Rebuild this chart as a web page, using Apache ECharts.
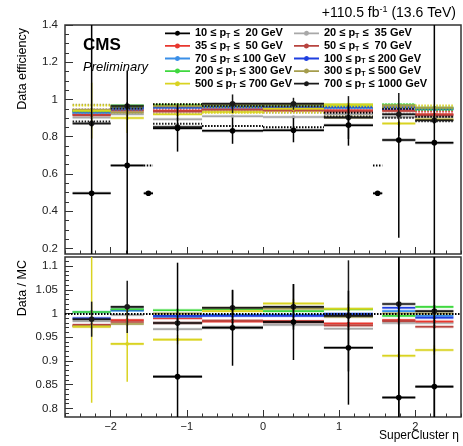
<!DOCTYPE html>
<html>
<head>
<meta charset="utf-8">
<script src="https://cdn.jsdelivr.net/npm/echarts@6/dist/echarts.min.js"></script>
<style>
  html, body { margin: 0; padding: 0; background: #fff; }
  #chart { width: 463px; height: 446px; }
</style>
</head>
<body>
<div id="chart"></div>
<script>
// SuperCluster eta binning (barrel, gap, endcap)
const etaEdges = [-2.5, -2.0, -1.566, -1.4442, -0.8, 0.0, 0.8, 1.4442, 1.566, 2.0, 2.5];

// Legend labels of the pT bins
const ptLabels = [
  '10 ≤ pT ≤  20 GeV', '20 ≤ pT ≤  35 GeV', '35 ≤ pT ≤  50 GeV', '50 ≤ pT ≤  70 GeV',
  '70 ≤ pT ≤ 100 GeV', '100 ≤ pT ≤ 200 GeV', '200 ≤ pT ≤ 300 GeV', '300 ≤ pT ≤ 500 GeV',
  '500 ≤ pT ≤ 700 GeV', '700 ≤ pT ≤ 1000 GeV'
];

// Data efficiency per eta bin (null = bin not measured)
const effPt10to20    = [0.496, 0.646, 0.496, 0.845, 0.832, 0.835, 0.862, 0.496, 0.782, 0.768];
const effPt20to35    = [0.903, 0.920, null,  0.894, 0.910, 0.906, 0.920, null,  0.906, 0.906];
const effPt35to50    = [0.920, 0.947, null,  0.940, 0.947, 0.945, 0.942, null,  0.942, 0.920];
const effPt50to70    = [0.915, 0.940, null,  0.935, 0.945, 0.940, 0.935, null,  0.938, 0.915];
const effPt70to100   = [0.930, 0.952, null,  0.956, 0.958, 0.955, 0.955, null,  0.955, 0.950];
const effPt100to200  = [0.935, 0.955, null,  0.958, 0.960, 0.960, 0.960, null,  0.960, 0.947];
const effPt200to300  = [0.940, 0.968, null,  0.970, 0.970, 0.970, 0.972, null,  0.970, 0.956];
const effPt300to500  = [0.945, 0.930, null,  0.965, 0.973, 0.973, 0.903, null,  0.968, 0.955];
const effPt500to700  = [0.940, 0.900, null,  0.920, 0.933, 0.950, 0.973, null,  0.871, 0.893];
const effPt700to1000 = [0.871, 0.965, null,  0.852, 0.977, 0.977, 0.903, null,  0.920, 0.888];

// Uncertainties on the data efficiency: value or [down, up]
const effErrPt10to20    = [[1.0, 1.0], [0.5, 0.51], 0.01, 0.125, 0.07, 0.065, 0.11, 0.01, [0.525, 0.1], [0.9, 0.9]];
const effErrPt500to700  = [0.15, 0.08, null, 0.01, 0.01, 0.01, 0.01, null, 0.02, 0.02];
const effErrPt700to1000 = [0.02, 0.02, null, 0.02, 0.05, 0.032, 0.115, null, 0.115, 0.02];

// Data / MC scale factors per eta bin
const sfPt10to20    = [null,  null,  0.768, 0.867, 0.970, 0.982, 0.928, 0.768, 0.823, 0.846];
const sfPt20to35    = [0.984, 0.997, null,  0.967, 0.972, 0.976, 0.968, null,  0.980, 0.980];
const sfPt35to50    = [0.974, 0.986, null,  0.990, 0.983, 0.984, 0.979, null,  0.986, 0.983];
const sfPt50to70    = [0.976, 0.982, null,  0.980, 0.985, 0.982, 0.975, null,  0.984, 0.972];
const sfPt70to100   = [1.003, 1.006, null,  0.993, 0.997, 0.997, 0.999, null,  1.005, 0.995];
const sfPt100to200  = [0.990, 1.008, null,  0.995, 0.995, 0.995, 0.999, null,  1.012, 0.991];
const sfPt200to300  = [1.003, 1.009, null,  1.007, 1.009, 1.005, 1.009, null,  0.995, 1.014];
const sfPt300to500  = [0.973, 0.978, null,  1.000, 1.012, 1.010, 0.993, null,  1.000, 1.000];
const sfPt500to700  = [0.972, 0.936, null,  0.945, 1.005, 1.021, 1.010, null,  0.911, 0.923];
const sfPt700to1000 = [0.988, 1.014, null,  0.980, 1.012, 1.014, 0.995, null,  1.020, 1.005];

// Uncertainties on the scale factors
const sfErrPt10to20    = [null, null, null, 0.24, 0.08, 0.08, 0.12, null, 0.35, 0.35];
const sfErrPt500to700  = [0.16, 0.08, null, 0.01, 0.01, 0.01, 0.01, null, 0.01, 0.01];
const sfErrPt700to1000 = [0.037, 0.055, null, 0.01, 0.037, 0.048, 0.117, null, 0.3, 0.3];

// Axis tick labels
const etaTicks = [-2, -1, 0, 1, 2];
const effTicks = [0.2, 0.4, 0.6, 0.8, 1.0, 1.2, 1.4];
const sfTicks  = [0.8, 0.85, 0.9, 0.95, 1.0, 1.05, 1.1];
const sfReference = 1.0;

const FONT = '"Liberation Sans", Arial, Helvetica, sans-serif';
const AXIS_COLOR = '#333';

// one entry per pT bin, drawn in this order (black ones last, on top)
const bins = [
  { label: ptLabels[1], eff: effPt20to35,   sf: sfPt20to35,   color: '#a8a8a8' },
  { label: ptLabels[2], eff: effPt35to50,   sf: sfPt35to50,   color: '#e8372f' },
  { label: ptLabels[3], eff: effPt50to70,   sf: sfPt50to70,   color: '#b8443f' },
  { label: ptLabels[4], eff: effPt70to100,  sf: sfPt70to100,  color: '#3a8fe8' },
  { label: ptLabels[5], eff: effPt100to200, sf: sfPt100to200, color: '#1f3fe0' },
  { label: ptLabels[6], eff: effPt200to300, sf: sfPt200to300, color: '#3fd83f' },
  { label: ptLabels[7], eff: effPt300to500, sf: sfPt300to500, color: '#a59d4c' },
  { label: ptLabels[8], eff: effPt500to700, sf: sfPt500to700, color: '#d9d321', effErr: effErrPt500to700, sfErr: sfErrPt500to700 },
  { label: ptLabels[9], eff: effPt700to1000, sf: sfPt700to1000, color: '#1a1a1a', effErr: effErrPt700to1000, sfErr: sfErrPt700to1000, big: true },
  { label: ptLabels[0], eff: effPt10to20,   sf: sfPt10to20,   color: '#000000', effErr: effErrPt10to20, sfErr: sfErrPt10to20, big: true }
];

function steps(from, to, step) {
  const out = [];
  const n = Math.round((to - from) / step);
  for (let k = 0; k <= n; k++) out.push(+(from + k * step).toFixed(4));
  return out;
}

// items: [centre, value, low edge, high edge, err down, err up, reference line]
function buildItems(vals, errs, refs) {
  const out = [];
  vals.forEach((v, j) => {
    if (v == null) return;
    const lo = etaEdges[j], hi = etaEdges[j + 1];
    let dn = -1, up = -1;
    const e = errs ? errs[j] : null;
    if (e != null) {
      if (Array.isArray(e)) { dn = e[0]; up = e[1]; } else { dn = e; up = e; }
    }
    const r = refs && refs[j] != null ? refs[j] : -1;
    out.push([(lo + hi) / 2, v, lo, hi, dn, up, r]);
  });
  return out;
}

function makeRender(color, opt) {
  return function (params, api) {
    const c = api.value(0), v = api.value(1), lo = api.value(2), hi = api.value(3);
    const dn = api.value(4), up = api.value(5), ref = api.value(6);
    const pL = api.coord([lo, v]), pR = api.coord([hi, v]), pC = api.coord([c, v]);
    const bh = api.size([0, opt.band])[1];
    const kids = [];
    kids.push({ type: 'rect', shape: { x: pL[0], y: pL[1] - bh, width: pR[0] - pL[0], height: 2 * bh },
                style: { fill: color, opacity: opt.bandOpacity } });
    if (ref > 0) {
      const m = api.coord([lo, ref]);
      kids.push({ type: 'line', shape: { x1: pL[0], y1: m[1], x2: pR[0], y2: m[1] },
                  style: { stroke: color, lineWidth: 2, lineDash: [1.5, 1.5] } });
    }
    kids.push({ type: 'line', shape: { x1: pL[0], y1: pL[1], x2: pR[0], y2: pR[1] },
                style: { stroke: color, lineWidth: opt.lineWidth } });
    if (dn >= 0) {
      const a = api.coord([c, v - dn]), b = api.coord([c, v + up]);
      kids.push({ type: 'line', shape: { x1: a[0], y1: a[1], x2: b[0], y2: b[1] },
                  style: { stroke: color, lineWidth: 1.5 } });
    }
    kids.push({ type: 'circle', shape: { cx: pC[0], cy: pC[1], r: opt.r }, style: { fill: color } });
    return { type: 'group', children: kids };
  };
}

const series = [];
bins.forEach(b => {
  const mc = b.eff.map((v, j) => (v != null && b.sf[j] != null) ? v / b.sf[j] : null);
  series.push({
    type: 'custom', name: b.label, xAxisIndex: 0, yAxisIndex: 0, clip: true,
    itemStyle: { color: b.color }, z: b.big ? 4 : 3,
    encode: { x: 0, y: 1 },
    renderItem: makeRender(b.color, { band: 0.008, bandOpacity: 0.35, lineWidth: 1.5, r: b.big ? 2.8 : 1.8 }),
    data: buildItems(b.eff, b.effErr, mc)
  });
  series.push({
    type: 'custom', name: b.label, xAxisIndex: 2, yAxisIndex: 2, clip: true,
    itemStyle: { color: b.color }, z: b.big ? 4 : 3,
    encode: { x: 0, y: 1 },
    renderItem: makeRender(b.color, { band: 0.003, bandOpacity: 0.35, lineWidth: 1.6, r: b.big ? 2.8 : 1.8 }),
    data: buildItems(b.sf, b.sfErr, null)
  });
});
// reference line at Data/MC = 1
series.push({
  type: 'line', xAxisIndex: 2, yAxisIndex: 2, data: [], silent: true, z: 5,
  markLine: {
    symbol: 'none', silent: true, label: { show: false },
    lineStyle: { color: '#000', width: 2, type: [1.5, 1.5] },
    data: [{ yAxis: sfReference }]
  }
});

const tickStyle = { color: AXIS_COLOR, width: 1 };
const hiddenLine = { show: false, onZero: false };
function xAxes(grid, withLabels) {
  return [
    { type: 'value', gridIndex: grid, min: -2.6, max: 2.6, position: 'bottom',
      axisLine: hiddenLine, splitLine: { show: false },
      axisTick: { inside: true, length: 7, lineStyle: tickStyle, customValues: etaTicks },
      axisLabel: { show: withLabels, customValues: etaTicks, margin: 4, color: '#222', fontSize: 11, fontFamily: FONT,
                   formatter: v => String(v).replace('-', '−') } },
    { type: 'value', gridIndex: grid, min: -2.6, max: 2.6, position: 'bottom',
      axisLine: hiddenLine, splitLine: { show: false }, axisLabel: { show: false },
      axisTick: { inside: true, length: 3.5, lineStyle: tickStyle, customValues: steps(-2.6, 2.6, 0.2) } }
  ];
}
function yAxes(grid, min, max, ticks, minorStep, minorFrom, minorTo) {
  return [
    { type: 'value', gridIndex: grid, min: min, max: max, position: 'left',
      axisLine: hiddenLine, splitLine: { show: false },
      axisTick: { inside: true, length: 8, lineStyle: tickStyle, customValues: ticks },
      axisLabel: { customValues: ticks, margin: 7, color: '#222', fontSize: 11.5, fontFamily: FONT,
                   formatter: v => String(+(+v).toFixed(2)) } },
    { type: 'value', gridIndex: grid, min: min, max: max, position: 'left',
      axisLine: hiddenLine, splitLine: { show: false }, axisLabel: { show: false },
      axisTick: { inside: true, length: 4, lineStyle: tickStyle, customValues: steps(minorFrom, minorTo, minorStep) } }
  ];
}

const legendRich = {
  n: { fontSize: 11, fontWeight: 'bold', fontFamily: FONT, color: '#000', lineHeight: 12.6, verticalAlign: 'middle' },
  s: { fontSize: 7, fontWeight: 'bold', fontFamily: FONT, color: '#000', lineHeight: 5, verticalAlign: 'bottom' }
};
function legendFormatter(name) {
  const parts = name.split('pT');
  return '{n|' + parts[0] + 'p}{s|T}{n|' + parts[1] + '}';
}
const legendIcon = 'path://M0,1.6 L25,1.6 L25,3.4 L0,3.4 Z M12.5,0 A2.5,2.5 0 1,1 12.49,0 Z';
function legendBox(left, names) {
  return {
    left: left, top: 27, orient: 'vertical', padding: 0, itemGap: 0,
    itemWidth: 25, itemHeight: 5, icon: legendIcon, selectedMode: false,
    data: names, formatter: legendFormatter,
    textStyle: { rich: legendRich, fontSize: 11, lineHeight: 12.6 }
  };
}

const option = {
  animation: false,
  backgroundColor: '#fff',
  grid: [
    { left: 65, top: 25, width: 396, height: 229, show: true, borderColor: AXIS_COLOR, borderWidth: 1.5, backgroundColor: 'transparent' },
    { left: 65, top: 257, width: 396, height: 160, show: true, borderColor: AXIS_COLOR, borderWidth: 1.5, backgroundColor: 'transparent' }
  ],
  xAxis: [...xAxes(0, false), ...xAxes(1, true)],
  yAxis: [
    ...yAxes(0, 0.17, 1.4, effTicks, 0.05, 0.2, 1.4),
    ...yAxes(1, 0.782, 1.119, sfTicks, 0.01, 0.79, 1.11)
  ],
  legend: [
    legendBox(165, [ptLabels[0], ptLabels[2], ptLabels[4], ptLabels[6], ptLabels[8]]),
    legendBox(294, [ptLabels[1], ptLabels[3], ptLabels[5], ptLabels[7], ptLabels[9]])
  ],
  graphic: [
    { type: 'text', x: 456, y: 13, style: {
        text: '{a|+110.5 fb}{u|-1}{a| (13.6 TeV)}', align: 'right', verticalAlign: 'middle',
        rich: { a: { fontSize: 14, fontFamily: FONT, fill: '#000', lineHeight: 16 },
                u: { fontSize: 9, fontFamily: FONT, fill: '#000', lineHeight: 9, verticalAlign: 'top' } } } },
    { type: 'text', x: 83, y: 45, style: { text: 'CMS', font: 'bold 17px ' + FONT, fill: '#000', align: 'left', verticalAlign: 'middle' } },
    { type: 'text', x: 83, y: 67, style: { text: 'Preliminary', font: 'italic 13px ' + FONT, fill: '#000', align: 'left', verticalAlign: 'middle' } },
    { type: 'text', x: 23, y: 28, rotation: Math.PI / 2, style: { text: 'Data efficiency', font: '12.5px ' + FONT, fill: '#000', align: 'right', verticalAlign: 'middle' } },
    { type: 'text', x: 23, y: 260, rotation: Math.PI / 2, style: { text: 'Data / MC', font: '12.5px ' + FONT, fill: '#000', align: 'right', verticalAlign: 'middle' } },
    { type: 'text', x: 459, y: 436, style: { text: 'SuperCluster η', font: '12px ' + FONT, fill: '#000', align: 'right', verticalAlign: 'middle' } }
  ],
  series: series
};

const chart = echarts.init(document.getElementById('chart'), null, { renderer: 'canvas' });
chart.setOption(option);
</script>
</body>
</html>
